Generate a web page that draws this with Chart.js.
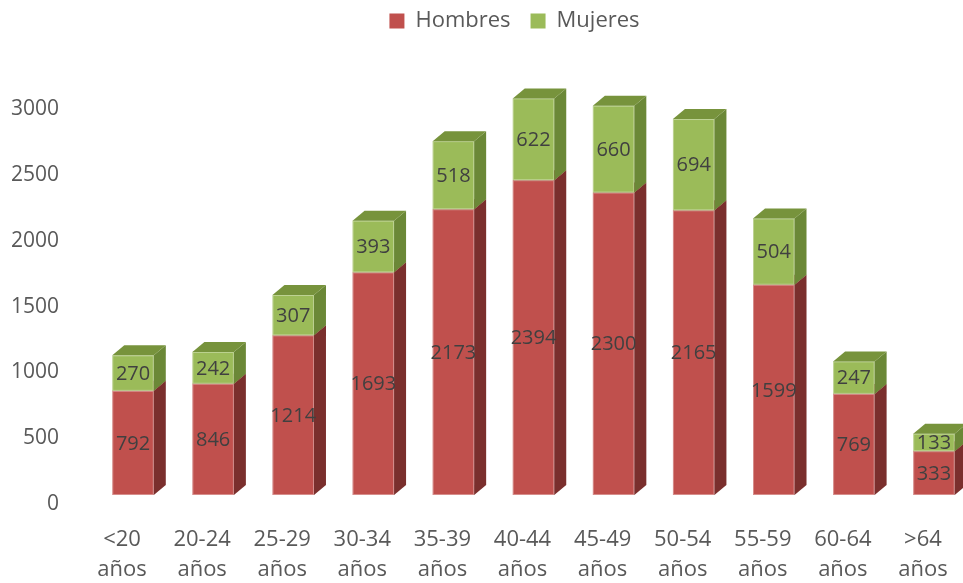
<!DOCTYPE html>
<html lang="es">
<head>
<meta charset="utf-8">
<title>Distribución por edad y sexo</title>
<script src="https://cdn.jsdelivr.net/npm/chart.js@4.4.1/dist/chart.umd.min.js"></script>
<style>
  html, body { margin: 0; padding: 0; background: #ffffff; }
  #wrap { width: 963px; height: 583px; position: relative; }
</style>
</head>
<body>
<div id="wrap"><canvas id="chart"></canvas></div>
<script>
// Age groups (two-line axis labels)
const categories = [
  ['<20', 'años'], ['20-24', 'años'], ['25-29', 'años'], ['30-34', 'años'],
  ['35-39', 'años'], ['40-44', 'años'], ['45-49', 'años'], ['50-54', 'años'],
  ['55-59', 'años'], ['60-64', 'años'], ['>64', 'años']
];
const hombres = [792, 846, 1214, 1693, 2173, 2394, 2300, 2165, 1599, 769, 333];
const mujeres = [270, 242, 307, 393, 518, 622, 660, 694, 504, 247, 133];
const yTicks = [0, 500, 1000, 1500, 2000, 2500, 3000];

const FONT = "'Open Sans', 'Liberation Sans', sans-serif";
const AXIS_COLOR = '#595959';
const LABEL_COLOR = '#404040';

// Face colours for each series: front, right side, top
const faces = [
  { front: '#C0504D', side: '#7A2F2D', top: '#9C3F3C' },
  { front: '#9BBB59', side: '#6B8837', top: '#77933C' }
];

// Box geometry for the pseudo-3D columns
const SHIFT_X = 11;   // front face offset from the category centre
const LIFT_Y = 9;     // front face raised above the value axis baseline
const DEPTH_X = 12;   // receding depth, horizontal
const DEPTH_Y = 10;   // receding depth, vertical
const LEGEND_NUDGE = 8; // legend row sits slightly left of the plot centre

const boxes3d = {
  id: 'boxes3d',
  afterInit(chart) {
    // leave room between the legend row and the plot area
    const legend = chart.legend;
    const fit = legend.fit;
    legend.fit = function () {
      fit.call(this);
      this.height = 119.5;
    };
  },
  afterLayout(chart) {
    chart.legend.left -= LEGEND_NUDGE;
    chart.legend.right -= LEGEND_NUDGE;
  },
  beforeDatasetDraw() {
    return false; // columns are painted by afterDatasetsDraw below
  },
  afterDatasetsDraw(chart) {
    const ctx = chart.ctx;
    const n = chart.data.labels.length;
    const labels = [];
    ctx.save();
    for (let i = 0; i < n; i++) {
      chart.data.datasets.forEach((ds, d) => {
        const el = chart.getDatasetMeta(d).data[i];
        if (!el) return;
        const p = el.getProps(['x', 'y', 'base', 'width'], true);
        const left = p.x + SHIFT_X - p.width / 2;
        const right = left + p.width;
        const top = Math.min(p.y, p.base) - LIFT_Y;
        const bottom = Math.max(p.y, p.base) - LIFT_Y;
        const f = faces[d];

        // front
        ctx.fillStyle = f.front;
        ctx.fillRect(left, top, p.width, bottom - top);
        ctx.strokeStyle = 'rgba(255,255,255,0.35)';
        ctx.lineWidth = 1;
        ctx.strokeRect(left + 0.5, top + 0.5, p.width - 1, bottom - top - 1);

        // right side
        ctx.beginPath();
        ctx.moveTo(right, top);
        ctx.lineTo(right + DEPTH_X, top - DEPTH_Y);
        ctx.lineTo(right + DEPTH_X, bottom - DEPTH_Y);
        ctx.lineTo(right, bottom);
        ctx.closePath();
        ctx.fillStyle = f.side;
        ctx.fill();

        // top
        ctx.beginPath();
        ctx.moveTo(left, top);
        ctx.lineTo(left + DEPTH_X, top - DEPTH_Y);
        ctx.lineTo(right + DEPTH_X, top - DEPTH_Y);
        ctx.lineTo(right, top);
        ctx.closePath();
        ctx.fillStyle = f.top;
        ctx.fill();

        labels.push({ text: String(ds.data[i]), x: (left + right) / 2, y: (top + bottom) / 2 });
      });
    }
    // value labels on the front faces
    ctx.fillStyle = LABEL_COLOR;
    ctx.font = '20px ' + FONT;
    ctx.textAlign = 'center';
    ctx.textBaseline = 'middle';
    labels.forEach(l => ctx.fillText(l.text, l.x, l.y + 1));
    ctx.restore();
  }
};

new Chart(document.getElementById('chart'), {
  type: 'bar',
  data: {
    labels: categories,
    datasets: [
      { label: 'Hombres', data: hombres, backgroundColor: faces[0].front, borderWidth: 0 },
      { label: 'Mujeres', data: mujeres, backgroundColor: faces[1].front, borderWidth: 0 }
    ]
  },
  options: {
    responsive: true,
    maintainAspectRatio: false,
    animation: false,
    devicePixelRatio: 1,
    layout: { padding: { top: -10, left: 0, right: 0, bottom: 0 } },
    datasets: { bar: { categoryPercentage: 1, barPercentage: 0.518 } },
    plugins: {
      tooltip: { enabled: false },
      legend: {
        position: 'top',
        fullSize: false,
        labels: {
          boxWidth: 15,
          boxHeight: 15,
          padding: 20,
          color: AXIS_COLOR,
          font: { family: FONT, size: 22 }
        }
      }
    },
    scales: {
      x: {
        stacked: true,
        // tick marks are hidden; their length only spaces the labels from the plot
        grid: { display: false, drawTicks: true, tickLength: 21, color: 'rgba(0,0,0,0)' },
        border: { display: false },
        ticks: {
          color: AXIS_COLOR,
          font: { family: FONT, size: 22, lineHeight: 1.36 },
          padding: 0,
          maxRotation: 0,
          autoSkip: false
        },
        afterFit(scale) { scale.height = 79; }
      },
      y: {
        stacked: true,
        min: 0,
        max: 3000,
        grid: { display: false, drawTicks: false },
        border: { display: false },
        afterBuildTicks(scale) { scale.ticks = yTicks.map(v => ({ value: v })); },
        ticks: {
          color: AXIS_COLOR,
          font: { family: FONT, size: 21 },
          padding: 23,
          callback: (v) => String(v)
        },
        afterFit(scale) { scale.width = 82; }
      }
    }
  },
  plugins: [boxes3d]
});
</script>
</body>
</html>
